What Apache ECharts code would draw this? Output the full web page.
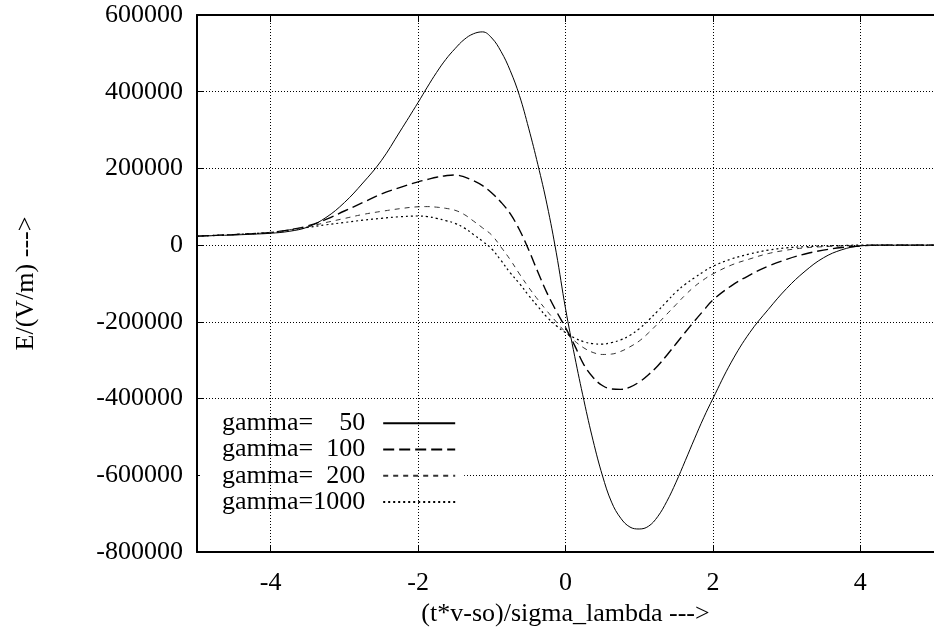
<!DOCTYPE html>
<html>
<head>
<meta charset="utf-8">
<script src="https://cdn.jsdelivr.net/npm/echarts@6/dist/echarts.min.js"></script>
<style>html,body{margin:0;padding:0;background:#fff;}#chart{width:934px;height:640px;}</style>
</head>
<body>
<div id="chart"></div>
<script>
const xValues = [-5,-4.75,-4.5,-4.25,-4,-3.75,-3.5,-3.25,-3,-2.75,-2.5,-2.25,
  -2,-1.875,-1.75,-1.625,-1.5,-1.375,-1.25,-1.125,-1,-0.875,-0.75,-0.625,-0.5,-0.375,-0.25,-0.125,0,
  0.125,0.25,0.375,0.5,0.625,0.75,0.875,1,1.125,1.25,1.375,1.5,1.625,1.75,1.875,2,
  2.25,2.5,2.75,3,3.25,3.5,3.75,4,4.25,4.5,4.75,5];
const gamma50 = [23000,25000,26500,28500,31000,36000,47000,72000,111000,162000,220000,295000,
  372000,412000,450000,484000,512000,536000,551000,556000,540000,505000,455000,390000,305000,210000,105000,-20000,-165000,
  -290000,-405000,-510000,-600000,-670000,-712000,-735000,-740000,-733000,-708000,-668000,-618000,-562000,-505000,-450000,-400000,
  -305000,-228000,-168000,-113000,-68000,-33000,-12000,-2000,0,0,0,0];
const gamma100 = [23500,25500,27500,30000,33000,40000,50000,67000,89000,111000,133000,150000,
  165000,171000,177000,181000,183000,178000,168000,155000,136000,112000,82000,40000,-12000,-70000,-125000,-172000,-215000,
  -262000,-312000,-345000,-366000,-375000,-376000,-370000,-357000,-338000,-315000,-287000,-257000,-227000,-198000,-170000,-143000,
  -106000,-78000,-55000,-37000,-23000,-13000,-6000,-2000,0,0,0,0];
const gamma200 = [23500,25500,27500,30000,33000,40000,48000,59000,69500,80000,88000,95000,
  100000,100500,99000,96000,91000,80000,63000,45000,26000,-5000,-38000,-75000,-110000,-142000,-172000,-200000,-227000,
  -250000,-268000,-280000,-285000,-284000,-277000,-265000,-250000,-229000,-205000,-180000,-155000,-130000,-108000,-90000,-75000,
  -52000,-36000,-22000,-13000,-7000,-4000,-2000,-1000,0,0,0,0];
const gamma1000 = [23500,25500,27500,30000,33000,39000,46000,53000,59000,65000,70000,74000,
  76000,74500,70000,64000,57000,45000,28000,10000,-10000,-40000,-72000,-100000,-131000,-160000,-188000,-210000,-228000,
  -242000,-252000,-257000,-258000,-254000,-247000,-235000,-218000,-196000,-172000,-147000,-122000,-102000,-85000,-69000,-55000,
  -36000,-23000,-13000,-7000,-4000,-2000,-1000,0,0,0,0,0];
const seriesNames = ['50','100','200','1000'];
const xTicks = [-4,-2,0,2,4];

const FONT = 'Liberation Serif';
const pairs = arr => xValues.map((x, i) => [x, arr[i]]);
const allData = [gamma50, gamma100, gamma200, gamma1000];
const lineStyles = [
  {color:'#000', width:1, type:'solid'},
  {color:'#000', width:1.4, type:[11,5]},
  {color:'#333', width:1, type:[5,5]},
  {color:'#000', width:1.2, type:[2,3]}
];

const chart = echarts.init(document.getElementById('chart'));
const series = seriesNames.map((n, i) => ({
  name: n,
  type: 'line',
  data: pairs(allData[i]),
  smooth: 0.4,
  showSymbol: false,
  symbol: 'none',
  lineStyle: lineStyles[i],
  itemStyle: {color: lineStyles[i].color},
  emphasis: {disabled: true},
  animation: false,
  z: 3
}));
series.push({
  type: 'line',
  data: [],
  silent: true,
  markLine: {
    silent: true,
    symbol: ['none','none'],
    label: {show: false},
    lineStyle: {color:'#000', width:1, type:[1,2]},
    data: xTicks.map(v => ({xAxis: v}))
  },
  z: 1
});

chart.setOption({
  animation: false,
  backgroundColor: '#fff',
  grid: {left: 197, top: 15, right: -5, bottom: 88},
  legend: {
    orient: 'vertical',
    left: 200, top: 405,
    padding: [5, 8, 2, 22],
    backgroundColor: '#fff',
    align: 'right',
    itemWidth: 72, itemHeight: 14,
    itemGap: 0,
    data: seriesNames,
    selectedMode: false,
    itemStyle: {opacity: 0},
    formatter: name => '{g|gamma=}{n|' + name + '}{s| }',
    textStyle: {
      fontFamily: FONT, fontSize: 26, color: '#000', lineHeight: 26.3,
      rich: {
        g: {fontFamily: FONT, fontSize: 26, color:'#000'},
        n: {fontFamily: FONT, fontSize: 26, color:'#000', width: 52, align: 'right'},
        s: {fontFamily: FONT, fontSize: 26, width: 13}
      }
    }
  },
  xAxis: [{
    type: 'value', min: -5, max: 5, position: 'bottom',
    name: '(t*v-so)/sigma_lambda --->', nameLocation: 'middle', nameGap: 44,
    nameTextStyle: {fontFamily: FONT, fontSize: 26, color: '#000'},
    axisLine: {show: true, onZero: false, lineStyle: {color:'#000', width: 2}},
    axisTick: {show: true, inside: true, length: 7, customValues: xTicks, lineStyle: {color:'#000', width: 1}},
    axisLabel: {customValues: xTicks, fontFamily: FONT, fontSize: 26, color: '#000', margin: 18, formatter: v => String(v)},
    splitLine: {show: false}
  }, {
    type: 'value', min: -5, max: 5, position: 'top',
    axisLine: {show: true, onZero: false, lineStyle: {color:'#000', width: 2}},
    axisTick: {show: true, inside: true, length: 7, customValues: xTicks, lineStyle: {color:'#000', width: 1}},
    axisLabel: {show: false},
    splitLine: {show: false}
  }],
  yAxis: {
    type: 'value', min: -800000, max: 600000, interval: 200000,
    name: 'E/(V/m) --->', nameLocation: 'middle', nameGap: 158, nameRotate: 90,
    nameTextStyle: {fontFamily: FONT, fontSize: 26, color: '#000'},
    axisLine: {show: true, onZero: false, lineStyle: {color:'#000', width: 2}},
    axisTick: {show: true, inside: true, length: 7, lineStyle: {color:'#000', width: 1}},
    axisLabel: {fontFamily: FONT, fontSize: 26, color: '#000', margin: 14, formatter: v => String(v)},
    splitLine: {show: true, lineStyle: {color:'#000', width: 1, type: [1,2]}}
  },
  series: series
});
</script>
</body>
</html>
